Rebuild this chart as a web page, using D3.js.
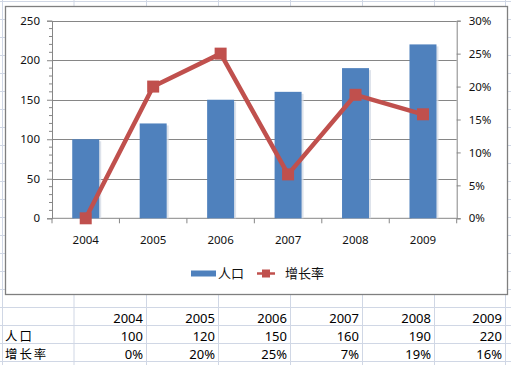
<!DOCTYPE html>
<html><head><meta charset="utf-8">
<script src="https://cdn.jsdelivr.net/npm/d3@7"></script>
<style>
html,body{margin:0;padding:0;background:#fff;}
svg{display:block;}
</style></head>
<body>
<svg id="c" width="511" height="365"></svg>
<script>
const years = ["2004","2005","2006","2007","2008","2009"];
const population = [100,120,150,160,190,220];
const growth = [0,0.20,0.25,0.0667,0.1875,0.1579];
const leftTicks = [0,50,100,150,200,250];
const rightTicks = [0,0.05,0.10,0.15,0.20,0.25,0.30];
const seriesNames = ["人口","增长率"];

const svg = d3.select("#c");
const W = 511, H = 365;
const gridColor = "#d0d7e5";
const chartFont = "'Noto Sans','Noto Sans CJK SC',sans-serif";
const cjkFont = "'Noto Sans CJK SC',sans-serif";
const numFont = "'Noto Sans',sans-serif";

// ---- spreadsheet grid ----
const colLines = [2.5,74,146.5,218.5,290.5,362.5,434.5,505.5];
const g0 = svg.append("g");
for (let y = 1; y < H; y += 18) {
  g0.append("line").attr("x1",0).attr("x2",W).attr("y1",y+0.5).attr("y2",y+0.5)
    .attr("stroke",gridColor).attr("stroke-width",1);
}
colLines.forEach(x => g0.append("line").attr("x1",x).attr("x2",x).attr("y1",0).attr("y2",H)
  .attr("stroke",gridColor).attr("stroke-width",1));

// ---- table text ----
const rowBase = [322.5, 340.5, 358.5];
const tg = svg.append("g").attr("fill","#000");
years.forEach((yr,i) => {
  const xr = colLines[i+2] - 3.5;
  tg.append("text").attr("x",xr).attr("y",rowBase[0]).attr("text-anchor","end").attr("font-family",numFont).attr("font-size",13).text(yr);
  tg.append("text").attr("x",xr).attr("y",rowBase[1]).attr("text-anchor","end").attr("font-family",numFont).attr("font-size",13).text(population[i]);
  tg.append("text").attr("x",xr).attr("y",rowBase[2]).attr("text-anchor","end").attr("font-family",numFont).attr("font-size",13).text(d3.format(".0%")(growth[i]));
});
tg.append("text").attr("x",5).attr("y",rowBase[1]).attr("font-family",cjkFont).attr("font-size",12.4).attr("letter-spacing",2).text(seriesNames[0]);
tg.append("text").attr("x",5).attr("y",rowBase[2]).attr("font-family",cjkFont).attr("font-size",12.4).attr("letter-spacing",2).text(seriesNames[1]);

// ---- chart area ----
svg.append("rect").attr("x",5.5).attr("y",6.5).attr("width",502).attr("height",288)
  .attr("fill","#fff").attr("stroke","#7f7f7f").attr("stroke-width",1.3);

const x0 = 52, x1 = 456.7, yTop = 20.7, yBot = 218.3;
const x = d3.scaleBand().domain(years).range([x0,x1]).padding(0);
const yL = d3.scaleLinear().domain([0,250]).range([yBot,yTop]);
const yR = d3.scaleLinear().domain([0,0.3]).range([yBot,yTop]);

const gc = svg.append("g");
// gridlines
gc.selectAll(".grid").data(leftTicks.filter(d=>d>0)).join("line")
  .attr("x1",x0).attr("x2",x1).attr("y1",d=>Math.round(yL(d))+0.5).attr("y2",d=>Math.round(yL(d))+0.5)
  .attr("stroke","#868686").attr("stroke-width",1);

// left axis
const leftAxis = d3.axisLeft(yL).tickValues(leftTicks).tickSize(5).tickPadding(7);
const gLeft = gc.append("g").attr("transform",`translate(${x0},0)`).call(leftAxis);
gLeft.select(".domain").attr("stroke","#868686");
gLeft.selectAll(".tick line").attr("stroke","#868686");
gLeft.selectAll("text").attr("font-family",chartFont).attr("font-size",11.5).attr("fill","#111");
const minorTicks = d3.range(0,251,10).filter(d=>d%50!==0);
gc.append("g").selectAll("line").data(minorTicks).join("line")
  .attr("x1",x0-3).attr("x2",x0).attr("y1",d=>yL(d)).attr("y2",d=>yL(d)).attr("stroke","#868686");

// right axis
const rightAxis = d3.axisRight(yR).tickValues(rightTicks).tickSize(4).tickPadding(8).tickFormat(d3.format(".0%"));
const gRight = gc.append("g").attr("transform",`translate(${x1},0)`).call(rightAxis);
gRight.select(".domain").attr("stroke","#868686");
gRight.selectAll(".tick line").attr("stroke","#868686");
gRight.selectAll("text").attr("font-family",chartFont).attr("font-size",11.5).attr("fill","#111");

// bottom axis
const gBot = gc.append("g").attr("transform",`translate(0,${yBot})`);
gBot.append("line").attr("x1",x0).attr("x2",x1).attr("y1",0).attr("y2",0).attr("stroke","#868686");
const bounds = years.map(d=>x(d)).concat([x1]);
gBot.selectAll(".bt").data(bounds).join("line").attr("x1",d=>d).attr("x2",d=>d).attr("y1",0).attr("y2",5).attr("stroke","#868686");
gBot.selectAll(".bl").data(years).join("text")
  .attr("x",d=>x(d)+x.bandwidth()/2).attr("y",26).attr("text-anchor","middle")
  .attr("font-family",chartFont).attr("font-size",11.5).attr("fill","#111").text(d=>d);

// bars
const bw = x.bandwidth()*0.4;
const bx = d => x(d) + (x.bandwidth()-bw)/2;
gc.append("g").selectAll("rect").data(years).join("rect")
  .attr("x",d=>bx(d)+2).attr("y",(d,i)=>yL(population[i])+2).attr("width",bw).attr("height",(d,i)=>yBot-yL(population[i])-2)
  .attr("fill","#d6dce6").attr("opacity",0.8);
gc.append("g").selectAll("rect").data(years).join("rect")
  .attr("x",d=>bx(d)).attr("y",(d,i)=>yL(population[i])).attr("width",bw).attr("height",(d,i)=>yBot-yL(population[i]))
  .attr("fill","#4f81bd");

// line
const pts = years.map((d,i)=>[x(d)+x.bandwidth()/2, yR(growth[i])]);
gc.append("path").attr("d",d3.line()(pts)).attr("fill","none").attr("stroke","#c0504d")
  .attr("stroke-width",4.5).attr("stroke-linejoin","round");
const ms = 12;
gc.append("g").selectAll("rect").data(pts).join("rect")
  .attr("x",d=>d[0]-ms/2).attr("y",d=>d[1]-ms/2).attr("width",ms).attr("height",ms).attr("fill","#c0504d");

// legend
const lg = svg.append("g");
lg.append("rect").attr("x",191).attr("y",270.5).attr("width",25).attr("height",6).attr("fill","#4f81bd");
lg.append("text").attr("x",218).attr("y",278).attr("font-family",cjkFont).attr("font-size",13).attr("fill","#111").text(seriesNames[0]);
lg.append("line").attr("x1",257).attr("x2",275).attr("y1",273.5).attr("y2",273.5).attr("stroke","#c0504d").attr("stroke-width",2.5);
lg.append("rect").attr("x",262).attr("y",269.5).attr("width",8).attr("height",8).attr("fill","#c0504d");
lg.append("text").attr("x",285).attr("y",278).attr("font-family",cjkFont).attr("font-size",13).attr("fill","#111").text(seriesNames[1]);
</script>
</body></html>
